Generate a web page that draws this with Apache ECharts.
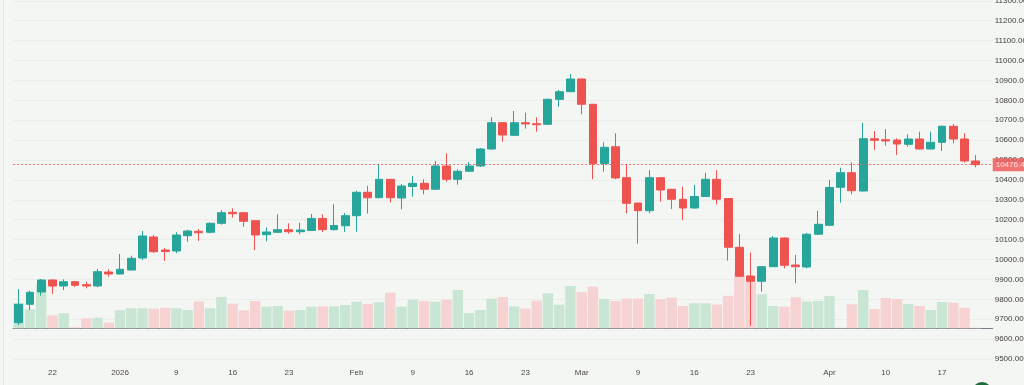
<!DOCTYPE html>
<html>
<head>
<meta charset="utf-8">
<script src="https://cdn.jsdelivr.net/npm/echarts@6/dist/echarts.min.js"></script>
<style>
  html, body { margin: 0; padding: 0; background: #f4f6f3; }
  #chart { width: 1024px; height: 385px; }
</style>
</head>
<body>
<div id="chart"></div>
<script>
const dates = ['2025-12-17','2025-12-18','2025-12-19','2025-12-22','2025-12-23','2025-12-24','2025-12-26','2025-12-29','2025-12-30','2026-01-02',
 '2026-01-05','2026-01-06','2026-01-07','2026-01-08','2026-01-09','2026-01-12','2026-01-13','2026-01-14','2026-01-15','2026-01-16',
 '2026-01-19','2026-01-20','2026-01-21','2026-01-22','2026-01-23','2026-01-26','2026-01-27','2026-01-28','2026-01-29','2026-01-30',
 '2026-02-02','2026-02-03','2026-02-04','2026-02-05','2026-02-06','2026-02-09','2026-02-10','2026-02-11','2026-02-12','2026-02-13',
 '2026-02-16','2026-02-17','2026-02-18','2026-02-19','2026-02-20','2026-02-23','2026-02-24','2026-02-25','2026-02-26','2026-02-27',
 '2026-03-02','2026-03-03','2026-03-04','2026-03-05','2026-03-06','2026-03-09','2026-03-10','2026-03-11','2026-03-12','2026-03-13',
 '2026-03-16','2026-03-17','2026-03-18','2026-03-19','2026-03-20','2026-03-23','2026-03-24','2026-03-25','2026-03-26','2026-03-27',
 '2026-03-30','2026-03-31','2026-04-01','2026-04-02','2026-04-07','2026-04-08','2026-04-09','2026-04-10','2026-04-13','2026-04-14',
 '2026-04-15','2026-04-16','2026-04-17','2026-04-20','2026-04-21','2026-04-22'];

const opens = [9682.4, 9774.9, 9836.7, 9897.0, 9866.8, 9888.4, 9873.4, 9866.8, 9937.2, 9927.1,
 9947.2, 10007.5, 10113.1, 10047.7, 10042.7, 10119.6, 10141.7, 10136.7, 10181.9, 10237.2,
 10235.2, 10195.0, 10124.6, 10136.7, 10149.7, 10139.7, 10145.7, 10206.0, 10149.7, 10169.3,
 10220.1, 10337.7, 10310.5, 10403.0, 10309.0, 10366.8, 10382.9, 10353.3, 10469.8, 10403.0,
 10443.7, 10469.8, 10555.3, 10687.4, 10624.1, 10687.4, 10682.4, 10679.4, 10805.0, 10843.2,
 10907.0, 10779.9, 10481.4, 10566.8, 10411.0, 10283.9, 10245.2, 10411.0, 10352.8, 10302.5,
 10258.8, 10316.6, 10403.0, 10306.5, 10061.3, 9917.1, 9890.5, 9963.8, 10108.0, 9972.4,
 9962.3, 10127.1, 10171.9, 10362.8, 10436.2, 10344.2, 10607.0, 10602.0, 10600.5, 10578.9,
 10605.5, 10555.3, 10588.9, 10669.3, 10605.5, 10494.9];

const closes = [9774.9, 9835.2, 9897.0, 9866.8, 9888.4, 9870.4, 9866.8, 9938.7, 9927.1, 9950.8,
 10006.0, 10118.1, 10039.2, 10040.2, 10123.1, 10143.2, 10134.7, 10181.9, 10235.2, 10230.1,
 10192.0, 10123.1, 10138.2, 10149.7, 10139.7, 10148.2, 10206.0, 10149.7, 10170.9, 10220.1,
 10337.7, 10310.0, 10403.0, 10310.5, 10369.3, 10382.9, 10353.3, 10469.8, 10403.0, 10443.2,
 10469.8, 10555.3, 10687.4, 10625.6, 10687.4, 10680.9, 10677.4, 10805.0, 10843.2, 10907.0,
 10779.9, 10481.4, 10563.8, 10409.5, 10282.4, 10245.2, 10411.0, 10349.2, 10302.5, 10258.8,
 10316.6, 10403.0, 10302.5, 10061.3, 9915.6, 9890.5, 9963.8, 10108.0, 9970.9, 9963.8,
 10127.1, 10176.9, 10361.8, 10436.2, 10345.7, 10607.0, 10599.0, 10595.5, 10580.4, 10605.5,
 10555.3, 10588.9, 10669.3, 10605.5, 10494.9, 10476.46];

const highs = [9851.8, 9843.2, 9902.0, 9900.5, 9900.5, 9892.0, 9888.4, 9952.3, 9950.8, 10027.6,
 10019.1, 10143.2, 10123.1, 10057.8, 10136.7, 10149.7, 10153.3, 10186.9, 10248.7, 10257.3,
 10238.7, 10198.5, 10161.8, 10227.1, 10181.9, 10184.9, 10228.6, 10227.1, 10277.9, 10233.7,
 10345.2, 10370.3, 10479.9, 10404.5, 10379.4, 10419.6, 10403.0, 10495.0, 10533.7, 10453.3,
 10489.9, 10560.3, 10714.6, 10690.9, 10746.2, 10737.7, 10714.6, 10809.0, 10851.7, 10932.1,
 10908.0, 10781.4, 10588.9, 10634.2, 10479.9, 10284.5, 10449.7, 10414.5, 10354.3, 10365.8,
 10374.4, 10436.2, 10449.7, 10309.0, 10128.1, 10035.2, 9967.0, 10118.1, 10110.5, 10022.6,
 10133.2, 10245.2, 10399.5, 10461.3, 10488.4, 10687.4, 10645.7, 10655.8, 10609.0, 10629.1,
 10642.2, 10642.2, 10673.4, 10680.9, 10634.2, 10525.1];

const lows = [9670.9, 9746.2, 9818.1, 9826.6, 9846.7, 9861.8, 9855.3, 9860.3, 9913.6, 9925.0,
 9945.0, 9997.5, 10032.7, 9992.5, 10031.2, 10089.4, 10093.0, 10131.7, 10174.9, 10210.0,
 10164.8, 10047.7, 10091.5, 10133.2, 10129.6, 10126.6, 10143.2, 10138.2, 10145.7, 10138.2,
 10139.7, 10230.6, 10308.0, 10285.4, 10252.3, 10315.6, 10327.6, 10349.2, 10390.9, 10375.9,
 10439.7, 10464.8, 10550.2, 10591.9, 10620.6, 10657.3, 10642.2, 10675.9, 10767.8, 10841.7,
 10729.6, 10403.0, 10441.2, 10403.0, 10232.2, 10079.4, 10232.2, 10290.4, 10253.8, 10198.5,
 10256.3, 10314.0, 10276.4, 9994.0, 9912.1, 9667.3, 9838.2, 9962.0, 9955.8, 9880.4,
 9955.8, 10123.1, 10168.0, 10285.4, 10327.6, 10342.0, 10550.2, 10571.8, 10525.1, 10566.8,
 10552.8, 10552.8, 10545.2, 10583.9, 10486.4, 10463.3];

const volumes = [250, 190, 440, 130, 150, 10, 100, 106, 56, 180,
 200, 200, 196, 206, 200, 183, 270, 200, 313, 246,
 180, 273, 216, 223, 176, 183, 216, 220, 220, 233,
 266, 243, 260, 356, 216, 286, 273, 266, 286, 383,
 153, 183, 296, 313, 218, 196, 276, 350, 236, 423,
 363, 416, 293, 273, 296, 296, 343, 290, 306, 223,
 250, 250, 238, 325, 560, 468, 340, 223, 216, 310,
 268, 273, 323, 6, 240, 383, 193, 303, 293, 243,
 223, 183, 263, 256, 206, 6];

const tickIdx = [3, 9, 14, 19, 24, 30, 35, 40, 45, 50, 55, 60, 65, 72, 77, 82];
const tickText = ['22', '2026', '9', '16', '23', 'Feb', '9', '16', '23', 'Mar', '9', '16', '23', 'Apr', '10', '17'];

const UP = '#26a69a', DOWN = '#ef5350';
const VOL_UP = '#c8e6d3', VOL_DOWN = '#f6d2d2';
const FONT = 'Liberation Sans';

const cats = dates.concat(['']);
const candleData = dates.map((d, i) => [opens[i], closes[i], lows[i], highs[i]]);
const volData = dates.map((d, i) => ({
  value: volumes[i],
  itemStyle: { color: closes[i] >= opens[i] ? VOL_UP : VOL_DOWN }
}));
const lastPrice = closes[closes.length - 1];

const chart = echarts.init(document.getElementById('chart'), null, { renderer: 'canvas' });
const gridL = 13.07, gridR = 31.3;
chart.setOption({
  backgroundColor: '#f4f6f3',
  animation: false,
  grid: [
    { left: gridL, right: gridR, top: 0.8, bottom: 26, outerBoundsMode: 'none', containLabel: false },
    { left: gridL, right: gridR, top: 228, bottom: 20, outerBoundsMode: 'none', containLabel: false }
  ],
  xAxis: [
    { type: 'category', gridIndex: 0, data: cats, boundaryGap: true, show: false },
    { type: 'category', gridIndex: 1, data: cats, boundaryGap: true,
      axisLine: { show: true, lineStyle: { color: '#7a7d85', width: 1 } },
      axisTick: { show: false },
      splitLine: { show: false },
      axisLabel: {
        interval: (i) => tickIdx.indexOf(i) >= 0,
        formatter: (v, i) => { const k = tickIdx.indexOf(i); return k >= 0 ? tickText[k] : ''; },
        color: '#4a4a4a', fontSize: 8, fontFamily: FONT, margin: 4
      }
    }
  ],
  yAxis: [
    { type: 'value', gridIndex: 0, position: 'right', min: 9500, max: 11300, interval: 100,
      axisLine: { show: false }, axisTick: { show: false },
      splitLine: { show: true, lineStyle: { color: '#eaedea', width: 1 } },
      axisLabel: { formatter: (v) => v.toFixed(2), color: '#3d3d3d', fontSize: 8, fontFamily: FONT, margin: 2,
                   showMinLabel: true, showMaxLabel: true }
    },
    { type: 'value', gridIndex: 1, min: -367, max: 1003, show: false, splitLine: { show: false } }
  ],
  series: [
    { type: 'bar', xAxisIndex: 1, yAxisIndex: 1, data: volData, barWidth: 10.4, z: 1, silent: true },
    { type: 'candlestick', xAxisIndex: 0, yAxisIndex: 0, data: candleData, barWidth: 8.4, z: 3,
      itemStyle: { color: UP, color0: DOWN, borderColor: UP, borderColor0: DOWN, borderWidth: 1 },
      markLine: {
        silent: true, symbol: 'none', animation: false,
        data: [{ yAxis: lastPrice }],
        lineStyle: { color: DOWN, type: [2, 2], width: 1, opacity: 0.8 },
        label: { position: 'end', distance: 0, formatter: () => lastPrice.toFixed(2),
                 backgroundColor: DOWN, color: '#fff', fontSize: 8, fontFamily: FONT, padding: [3, 3, 2, 3] }
      }
    }
  ],
  graphic: [
    { type: 'line', shape: { x1: 3.5, y1: 0, x2: 3.5, y2: 385 }, style: { stroke: '#e2e5ea', lineWidth: 1 }, silent: true },
    { type: 'circle', shape: { cx: 982, cy: 392, r: 10 }, style: { fill: '#1f6b3a' }, silent: true }
  ]
});
</script>
</body>
</html>
